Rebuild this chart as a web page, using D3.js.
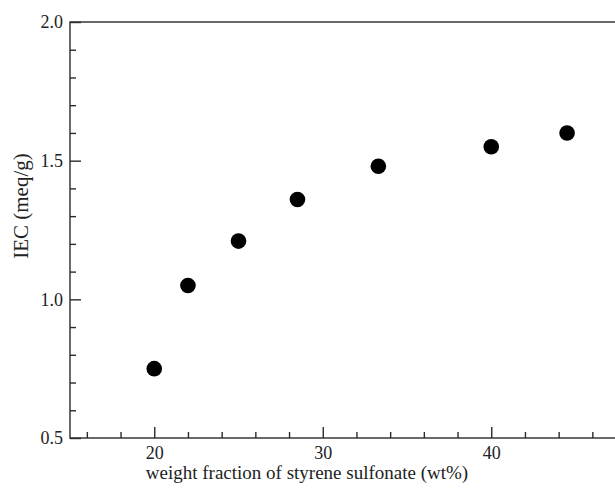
<!DOCTYPE html>
<html>
<head>
<meta charset="utf-8">
<script src="https://cdn.jsdelivr.net/npm/d3@7"></script>
<style>
  html, body { margin: 0; padding: 0; background: #fff; overflow: hidden; }
  svg { display: block; font-family: "Liberation Serif", "Times New Roman", serif; }
</style>
</head>
<body>
<svg id="chart" width="615" height="489"></svg>
<script>
// IEC vs. styrene sulfonate content
const styreneWt = [20, 22, 25, 28.5, 33.3, 40, 44.5];
const iecValues = [0.75, 1.05, 1.21, 1.36, 1.48, 1.55, 1.60];
const xMajorTicks = [20, 30, 40];
const xMinorTicks = [16, 18, 22, 24, 26, 28, 32, 34, 36, 38, 42, 44, 46];
const yMajorTicks = [0.5, 1.0, 1.5, 2.0];
const yMinorTicks = [0.6, 0.7, 0.8, 0.9, 1.1, 1.2, 1.3, 1.4, 1.6, 1.7, 1.8, 1.9];
const xTitle = "weight fraction of styrene sulfonate (wt%)";
const yTitle = "IEC (meq/g)";

const svg = d3.select("#chart");
const plotLeft = 70, plotTop = 22, plotBottom = 438;
const unit = 16.85; // px per wt%
const x = d3.scaleLinear().domain([15, 48]).range([plotLeft, plotLeft + 33 * unit]);
const y = d3.scaleLinear().domain([0.5, 2.0]).range([plotBottom, plotTop]);

const axisColor = "#2a2a2a";
const g = svg.append("g");

// frame
g.append("rect")
  .attr("x", x(15)).attr("y", y(2.0))
  .attr("width", x(48) - x(15)).attr("height", y(0.5) - y(2.0))
  .attr("fill", "none").attr("stroke", axisColor).attr("stroke-width", 1.4);

// bottom axis, ticks pointing inward
const xAxis = d3.axisBottom(x).tickValues(xMajorTicks).tickSizeInner(-11).tickSizeOuter(0)
  .tickPadding(21).tickFormat(d3.format("d"));
const xg = g.append("g").attr("transform", `translate(0,${plotBottom})`).call(xAxis);
xg.select(".domain").remove();
xg.selectAll(".tick line").attr("stroke", axisColor).attr("stroke-width", 1.4);
xg.selectAll(".tick text").attr("fill", "#222").style("font-size", "18px")
  .style("font-family", "Liberation Serif").attr("y", 21).attr("dy", "0");
const xMinor = d3.axisBottom(x).tickValues(xMinorTicks).tickSize(-6).tickFormat("");
const xmg = g.append("g").attr("transform", `translate(0,${plotBottom})`).call(xMinor);
xmg.select(".domain").remove();
xmg.selectAll(".tick line").attr("stroke", axisColor).attr("stroke-width", 1.4);

// left axis, ticks pointing inward
const yAxis = d3.axisLeft(y).tickValues(yMajorTicks).tickSizeInner(-11).tickSizeOuter(0)
  .tickPadding(7).tickFormat(d3.format(".1f"));
const yg = g.append("g").attr("transform", `translate(${plotLeft},0)`).call(yAxis);
yg.select(".domain").remove();
yg.selectAll(".tick line").attr("stroke", axisColor).attr("stroke-width", 1.4);
yg.selectAll(".tick text").attr("fill", "#222").style("font-size", "18px")
  .style("font-family", "Liberation Serif").attr("x", -7);
const yMinor = d3.axisLeft(y).tickValues(yMinorTicks).tickSize(-6).tickFormat("");
const ymg = g.append("g").attr("transform", `translate(${plotLeft},0)`).call(yMinor);
ymg.select(".domain").remove();
ymg.selectAll(".tick line").attr("stroke", axisColor).attr("stroke-width", 1.4);

// axis titles
svg.append("text")
  .attr("x", 307).attr("y", 479)
  .attr("text-anchor", "middle")
  .style("font-size", "19px").attr("fill", "#222")
  .text(xTitle);
svg.append("text")
  .attr("transform", "translate(28,206) rotate(-90)")
  .attr("text-anchor", "middle")
  .style("font-size", "21px").attr("fill", "#222")
  .text(yTitle);

// data points
g.selectAll("circle.pt")
  .data(styreneWt.map((w, i) => ({ w, v: iecValues[i] })))
  .join("circle")
  .attr("class", "pt")
  .attr("cx", d => x(d.w))
  .attr("cy", d => y(d.v))
  .attr("r", 7.8)
  .attr("fill", "#000");
</script>
</body>
</html>
